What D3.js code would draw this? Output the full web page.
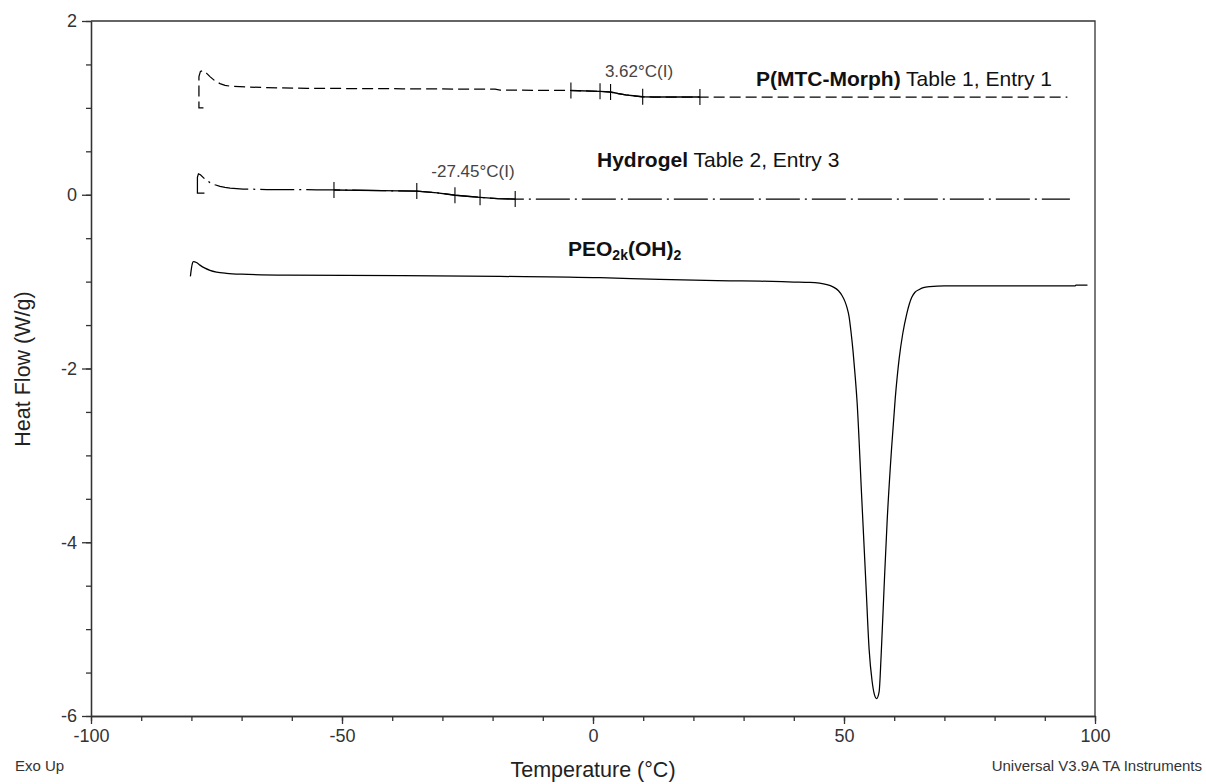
<!DOCTYPE html>
<html>
<head>
<meta charset="utf-8">
<script src="https://cdn.jsdelivr.net/npm/d3@7"></script>
<style>
  body { margin: 0; background: #fff; }
  svg { display: block; font-family: "Liberation Sans", Arial, sans-serif; }
  .axis text { fill: #333; font-size: 18px; }
  .axis path, .axis line { stroke: #333; stroke-width: 1.3; }
</style>
</head>
<body>
<svg id="chart"></svg>
<script>
// P(MTC-Morph) Table 1, Entry 1 (dashed)
let morphT = [-77.6, -78.5, -78.5, -78.2, -77.7, -77.0, -76.3, -75.3, -74.3, -73.3, -72.3, -69, -66, -57, -38, -19.5, -18.5, -4.4, 1.4, 3.5, 5, 6.5, 8, 9.9, 12, 21.3, 40, 60, 80, 94.5];
let morphHF = [1.00, 1.00, 1.36, 1.42, 1.43, 1.40, 1.36, 1.31, 1.28, 1.26, 1.25, 1.24, 1.235, 1.225, 1.22, 1.215, 1.205, 1.20, 1.19, 1.182, 1.165, 1.15, 1.14, 1.128, 1.125, 1.125, 1.125, 1.125, 1.125, 1.125];
let morphMarks = [-4.4, 1.4, 3.5, 9.9, 21.3];

// Hydrogel Table 2, Entry 3 (dash-dot)
let gelT = [-77.4, -78.8, -78.8, -78.6, -78.2, -77.3, -76.3, -75.3, -74.3, -73.3, -72.3, -69.7, -65, -55, -51.6, -42, -35.1, -31, -27.5, -25, -22.5, -19, -15.5, -10, 20, 60, 95];
let gelHF = [0.02, 0.02, 0.20, 0.24, 0.23, 0.18, 0.14, 0.115, 0.096, 0.085, 0.077, 0.066, 0.06, 0.057, 0.055, 0.047, 0.042, 0.022, -0.005, -0.018, -0.03, -0.045, -0.05, -0.05, -0.05, -0.05, -0.05];
let gelMarks = [-51.6, -35.1, -27.5, -22.5, -15.5];

// PEO2k(OH)2 (solid)
let peoT = [-80.2, -80.0, -79.8, -79.6, -79.0, -78.3, -77.3, -76.3, -75, -73, -70, -61, -38, -18.5, 1.4, 13.3, 27.3, 33.3, 40, 43.2, 46.6, 47.8, 48.9, 49.6, 50.2, 50.6, 51.0, 51.4, 51.8, 52.2, 52.6, 53.5, 54.4, 55.0, 55.6, 56.0, 56.5, 57.0, 57.4, 58.0, 58.6, 59.5, 60.2, 61.0, 61.7, 62.5, 63.0, 63.5, 64.1, 65.0, 65.8, 67.1, 70, 80, 96, 96.2, 98.5];
let peoHF = [-0.94, -0.85, -0.79, -0.77, -0.78, -0.81, -0.845, -0.87, -0.89, -0.905, -0.915, -0.925, -0.93, -0.94, -0.955, -0.975, -0.99, -0.995, -1.005, -1.01, -1.035, -1.06, -1.105, -1.16, -1.23, -1.3, -1.40, -1.58, -1.8, -2.07, -2.38, -3.45, -4.52, -5.23, -5.6, -5.74, -5.8, -5.72, -5.3, -4.5, -3.75, -2.9, -2.35, -1.88, -1.6, -1.37, -1.26, -1.18, -1.125, -1.09, -1.07, -1.058, -1.05, -1.05, -1.05, -1.04, -1.04];

// axis ticks
let xMajor = [-100, -50, 0, 50, 100];
let xMinor = d3.range(-100, 101, 10);
let yMajor = [-6, -4, -2, 0, 2];
let yMinor = d3.range(-6, 2.01, 0.5);

let svg = d3.select("#chart").attr("width", 1206).attr("height", 784);

let x = d3.scaleLinear().domain([-100, 100]).range([91, 1095]);
let y = d3.scaleLinear().domain([-6, 2]).range([716, 21]);

//axes: minor ticks first, then labelled ones
svg.append("g").attr("class", "axis")
    .attr("transform", "translate(0,716)")
    .call(d3.axisBottom(x).tickValues(xMinor).tickSize(5).tickSizeOuter(0).tickFormat(""));
svg.append("g").attr("class", "axis")
    .attr("transform", "translate(0,716)")
    .call(d3.axisBottom(x).tickValues(xMajor).tickSize(8).tickSizeOuter(0).tickPadding(5).tickFormat(function(d) { return String(d); }));
svg.append("g").attr("class", "axis")
    .attr("transform", "translate(91,0)")
    .call(d3.axisLeft(y).tickValues(yMinor).tickSize(5).tickSizeOuter(0).tickFormat(""));
svg.append("g").attr("class", "axis")
    .attr("transform", "translate(91,0)")
    .call(d3.axisLeft(y).tickValues(yMajor).tickSize(9).tickSizeOuter(0).tickPadding(5).tickFormat(function(d) { return String(d); }));

//top and right frame
svg.append("path")
    .attr("d", "M" + x(-100) + "," + y(2) + "H" + x(100) + "V" + y(-6))
    .attr("fill", "none").attr("stroke", "#333").attr("stroke-width", 1.3);

function toPts(ts, vs) {
  return ts.map(function(t, i) { return [t, vs[i]]; });
}

// linear lookup along a curve, used for the analysis markers
function valueAt(ts, vs, t) {
  for (let i = ts.length - 1; i > 0; i--) {
    if (ts[i - 1] <= t && t <= ts[i] && ts[i] > ts[i - 1]) {
      let f = (t - ts[i - 1]) / (ts[i] - ts[i - 1]);
      return vs[i - 1] + f * (vs[i] - vs[i - 1]);
    }
  }
  return vs[vs.length - 1];
}

function drawCurve(ts, vs, dash, curve) {
  let line = d3.line()
      .x(function(d) { return x(d[0]); })
      .y(function(d) { return y(d[1]); })
      .curve(curve);
  svg.append("path")
      .datum(toPts(ts, vs))
      .attr("d", line)
      .attr("fill", "none")
      .attr("stroke", "#000")
      .attr("stroke-width", 1.25)
      .attr("stroke-dasharray", dash);
}

function drawMarks(ts, vs, marks) {
  let lo = marks[0], hi = marks[marks.length - 1];
  let seg = [[lo, valueAt(ts, vs, lo)]];
  ts.forEach(function(t, i) { if (t > lo && t < hi) seg.push([t, vs[i]]); });
  seg.push([hi, valueAt(ts, vs, hi)]);
  svg.append("path")
      .datum(seg)
      .attr("d", d3.line().x(function(d) { return x(d[0]); }).y(function(d) { return y(d[1]); }))
      .attr("fill", "none").attr("stroke", "#000").attr("stroke-width", 1.4);
  svg.append("g").selectAll("line")
    .data(marks)
    .enter().append("line")
      .attr("x1", function(d) { return x(d); })
      .attr("x2", function(d) { return x(d); })
      .attr("y1", function(d) { return y(valueAt(ts, vs, d)) - 8; })
      .attr("y2", function(d) { return y(valueAt(ts, vs, d)) + 8; })
      .attr("stroke", "#000").attr("stroke-width", 1.1);
}

drawCurve(morphT, morphHF, "11,5", d3.curveLinear);
drawCurve(gelT, gelHF, "34,5,2,5", d3.curveLinear);
drawCurve(peoT, peoHF, null, d3.curveMonotoneX);
drawMarks(morphT, morphHF, morphMarks);
drawMarks(gelT, gelHF, gelMarks);

//annotations
svg.append("text").attr("x", 639).attr("y", 77).attr("text-anchor", "middle")
    .attr("font-size", 17).attr("fill", "#444").text("3.62°C(I)");
svg.append("text").attr("x", 473).attr("y", 177).attr("text-anchor", "middle")
    .attr("font-size", 17).attr("fill", "#444").text("-27.45°C(I)");

let t1 = svg.append("text").attr("x", 756).attr("y", 86).attr("font-size", 21).attr("fill", "#111");
t1.append("tspan").attr("font-weight", "bold").text("P(MTC-Morph)");
t1.append("tspan").text(" Table 1, Entry 1");

let t2 = svg.append("text").attr("x", 597).attr("y", 167).attr("font-size", 21).attr("fill", "#111");
t2.append("tspan").attr("font-weight", "bold").text("Hydrogel");
t2.append("tspan").text(" Table 2, Entry 3");

let t3 = svg.append("text").attr("x", 568).attr("y", 256).attr("font-size", 21).attr("font-weight", "bold").attr("fill", "#111");
t3.append("tspan").text("PEO");
t3.append("tspan").attr("font-size", 14).attr("dy", 4).text("2k");
t3.append("tspan").attr("dy", -4).text("(OH)");
t3.append("tspan").attr("font-size", 14).attr("dy", 4).text("2");

//axis titles and footer
svg.append("text").attr("x", 593).attr("y", 777).attr("text-anchor", "middle")
    .attr("font-size", 21.5).attr("fill", "#222").text("Temperature (°C)");
svg.append("text").attr("transform", "translate(30,369) rotate(-90)").attr("text-anchor", "middle")
    .attr("font-size", 21.5).attr("fill", "#222").text("Heat Flow (W/g)");
svg.append("text").attr("x", 15).attr("y", 771).attr("font-size", 15).attr("fill", "#333").text("Exo Up");
svg.append("text").attr("x", 1202).attr("y", 771).attr("text-anchor", "end")
    .attr("font-size", 15).attr("fill", "#333").text("Universal V3.9A TA Instruments");
</script>
</body>
</html>
